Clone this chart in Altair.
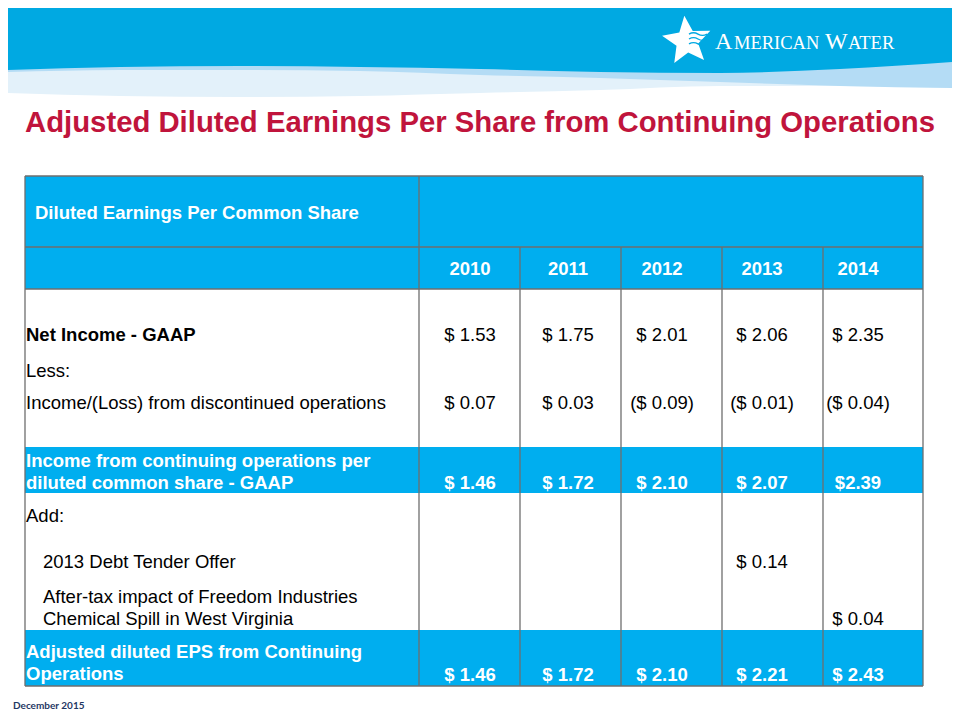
import math
import altair as alt
import pandas as pd

# ---------------- data ----------------
title = "Adjusted Diluted Earnings Per Share from Continuing Operations"
header_label = "Diluted Earnings Per Common Share"
years = ["2010", "2011", "2012", "2013", "2014"]
row_labels = [
    "Net Income - GAAP",
    "Less:",
    "Income/(Loss) from discontinued operations",
    "Income from continuing operations per\ndiluted common share - GAAP",
    "Add:",
    "2013 Debt Tender Offer",
    "After-tax impact of Freedom Industries\nChemical Spill in West Virginia",
    "Adjusted diluted EPS from Continuing\nOperations",
]
net_income_gaap = [1.53, 1.75, 2.01, 2.06, 2.35]
less_row = [None, None, None, None, None]
discontinued_ops = [0.07, 0.03, -0.09, -0.01, -0.04]
continuing_ops_gaap = [1.46, 1.72, 2.10, 2.07, 2.39]
add_row = [None, None, None, None, None]
debt_tender_offer = [None, None, None, 0.14, None]
freedom_spill = [None, None, None, None, 0.04]
adjusted_eps = [1.46, 1.72, 2.10, 2.21, 2.43]
row_values = [net_income_gaap, less_row, discontinued_ops, continuing_ops_gaap,
              add_row, debt_tender_offer, freedom_spill, adjusted_eps]
footer = "December 2015"

# ---------------- layout (page pixels) ----------------
W, H = 944, 704
col_edges = [25, 419, 520, 621, 722, 823, 923]
value_x = [470, 568, 662, 762, 858]
table_top, header_mid, header_bottom, table_bottom = 176, 247, 289, 686
label_x = [26, 26, 26, 26, 26, 43, 43, 26]
label_base = [341, 377, 409, 467, 522, 568, 603, 658]
value_base = [341, 377, 409, 489, 522, 568, 625, 681]
blue_rows = [3, 7]
blue_bands = [(table_top, header_bottom), (447, 493), (630, 686)]
bold_labels = [0, 3, 7]

HEAD_BLUE = "#00A9E2"
TABLE_BLUE = "#00AEEF"
LINE = "#6E6E6E"
FONT = "Liberation Sans"

xs = alt.Scale(domain=[8, 8 + W], nice=False, zero=False)
ys = alt.Scale(domain=[8, 8 + H], nice=False, zero=False, reverse=True)


def X(f):
    return alt.X(f, type="quantitative", scale=xs, axis=None)


def Y(f):
    return alt.Y(f, type="quantitative", scale=ys, axis=None)


def fmt(v, space=True):
    if v is None:
        return ""
    sp = " " if space else ""
    if v < 0:
        return f"(${sp}{abs(v):.2f})"
    return f"${sp}{v:.2f}"


# ---------------- header waves ----------------
wave_x = [8, 120, 240, 360, 480, 600, 720, 840, 952]
dark_bottom = [70, 67, 66, 67, 69, 72, 73, 69, 62]
light_bottom = [72, 70, 70, 71, 75, 78, 82, 86, 88]
pale_bottom = [93, 96, 97, 96, 93, 90, 86, 86, 88]
waves = pd.DataFrame({"x": wave_x, "dark": dark_bottom, "light": light_bottom,
                      "pale": pale_bottom, "top": [8] * len(wave_x)})

pale = alt.Chart(waves).mark_area(color="#E3F1FA", interpolate="monotone").encode(
    x=X("x"), y=Y("pale"), y2=alt.Y2("top"))
light = alt.Chart(waves).mark_area(color="#B4DCF5", interpolate="monotone").encode(
    x=X("x"), y=Y("light"), y2=alt.Y2("top"))
dark = alt.Chart(waves).mark_area(color=HEAD_BLUE, interpolate="monotone").encode(
    x=X("x"), y=Y("dark"), y2=alt.Y2("top"))

# ---------------- logo ----------------
pts = []
for k in range(10):
    a = math.radians(-96 + 36 * k)
    r = 1.0 if k % 2 == 0 else 0.45
    pts.append(f"{r * math.cos(a):.4f},{r * math.sin(a):.4f}")
star_path = "M" + " L".join(pts) + " Z"
star = alt.Chart(pd.DataFrame({"x": [687], "y": [41]})).mark_point(
    shape=star_path, filled=True, color="white", size=2600, opacity=1).encode(
    x=X("x"), y=Y("y"))
wave_path = ("M-1,-0.55 Q-0.5,-0.85 0,-0.55 T1,-0.55 "
             "M-1,0 Q-0.5,-0.3 0,0 T1,0 "
             "M-1,0.55 Q-0.5,0.25 0,0.55 T1,0.55")
water = alt.Chart(pd.DataFrame({"x": [698], "y": [39]})).mark_point(
    shape=wave_path, filled=False, stroke=HEAD_BLUE, strokeWidth=1.4, size=324,
    opacity=1).encode(x=X("x"), y=Y("y"))
logo_df = pd.DataFrame({"t": ["A", "MERICAN", "W", "ATER"],
                        "x": [715, 734, 825, 848], "y": [49, 49, 49, 49],
                        "fs": [24, 18.5, 24, 18.5]})
logo = alt.Chart(logo_df).mark_text(font="Liberation Serif", color="white",
                                    align="left", baseline="alphabetic").encode(
    x=X("x"), y=Y("y"), text="t:N", size=alt.Size("fs:Q", scale=None))

# ---------------- title / footer ----------------
title_l = alt.Chart(pd.DataFrame({"t": [title], "x": [25], "y": [132]})).mark_text(
    font=FONT, fontSize=29.3, fontWeight="bold", color="#C0143C", align="left",
    baseline="alphabetic").encode(x=X("x"), y=Y("y"), text="t:N")
footer_l = alt.Chart(pd.DataFrame({"t": [footer], "x": [13], "y": [709]})).mark_text(
    font="Lato", fontSize=10, fontWeight="bold", color="#1F3864", align="left",
    baseline="alphabetic").encode(x=X("x"), y=Y("y"), text="t:N")

# ---------------- table ----------------
bands = pd.DataFrame({"x1": [col_edges[0]] * 3, "x2": [col_edges[-1]] * 3,
                      "y1": [b[0] for b in blue_bands], "y2": [b[1] for b in blue_bands]})
band_l = alt.Chart(bands).mark_rect(color=TABLE_BLUE).encode(
    x=X("x1"), x2=alt.X2("x2"), y=Y("y1"), y2=alt.Y2("y2"))

vlines = pd.DataFrame({
    "x": col_edges,
    "y1": [table_top, table_top] + [header_mid] * 4 + [table_top],
    "y2": [table_bottom] * len(col_edges)})
vline_l = alt.Chart(vlines).mark_rule(color=LINE, strokeWidth=1.3).encode(
    x=X("x"), y=Y("y1"), y2=alt.Y2("y2"))
hlines = pd.DataFrame({"x1": [col_edges[0]] * 4, "x2": [col_edges[-1]] * 4,
                       "y": [table_top, header_mid, header_bottom, table_bottom]})
hline_l = alt.Chart(hlines).mark_rule(color=LINE, strokeWidth=1.3).encode(
    x=X("x1"), x2=alt.X2("x2"), y=Y("y"))

head_df = pd.DataFrame({"t": [header_label] + years,
                        "x": [35] + value_x,
                        "y": [219] + [275] * 5})
head_left = alt.Chart(head_df.iloc[:1]).mark_text(
    font=FONT, fontSize=18.5, fontWeight="bold", color="white", align="left",
    baseline="alphabetic").encode(x=X("x"), y=Y("y"), text="t:N")
head_years = alt.Chart(head_df.iloc[1:]).mark_text(
    font=FONT, fontSize=18.5, fontWeight="bold", color="white", align="center",
    baseline="alphabetic").encode(x=X("x"), y=Y("y"), text="t:N")

lab_rows, val_rows = [], []
for i, lab in enumerate(row_labels):
    col = "white" if i in blue_rows else "black"
    lab_rows.append({"t": lab, "x": label_x[i], "y": label_base[i], "c": col,
                     "bold": i in bold_labels})
    for j, v in enumerate(row_values[i]):
        if v is None:
            continue
        space = not (i == 3 and j == 4)
        val_rows.append({"t": fmt(v, space), "x": value_x[j], "y": value_base[i],
                         "c": col, "bold": i in blue_rows})
lab_df = pd.DataFrame(lab_rows)
val_df = pd.DataFrame(val_rows)


def text_layer(df, bold, align):
    return alt.Chart(df).mark_text(
        font=FONT, fontSize=18.5, fontWeight="bold" if bold else "normal",
        align=align, baseline="alphabetic", lineBreak="\n", lineHeight=22).encode(
        x=X("x"), y=Y("y"), text="t:N", color=alt.Color("c:N", scale=None))


lab_b = text_layer(lab_df[lab_df.bold], True, "left")
lab_n = text_layer(lab_df[~lab_df.bold], False, "left")
val_b = text_layer(val_df[val_df.bold], True, "center")
val_n = text_layer(val_df[~val_df.bold], False, "center")

chart = alt.layer(
    pale, light, dark, star, water, logo, title_l, footer_l,
    band_l, vline_l, hline_l, head_left, head_years, lab_b, lab_n, val_b, val_n,
).properties(width=W, height=H, padding=0, autosize="none", background="white"
).configure_view(stroke=None)

chart.save("out.html", embed_options={"renderer": "svg", "actions": False})
